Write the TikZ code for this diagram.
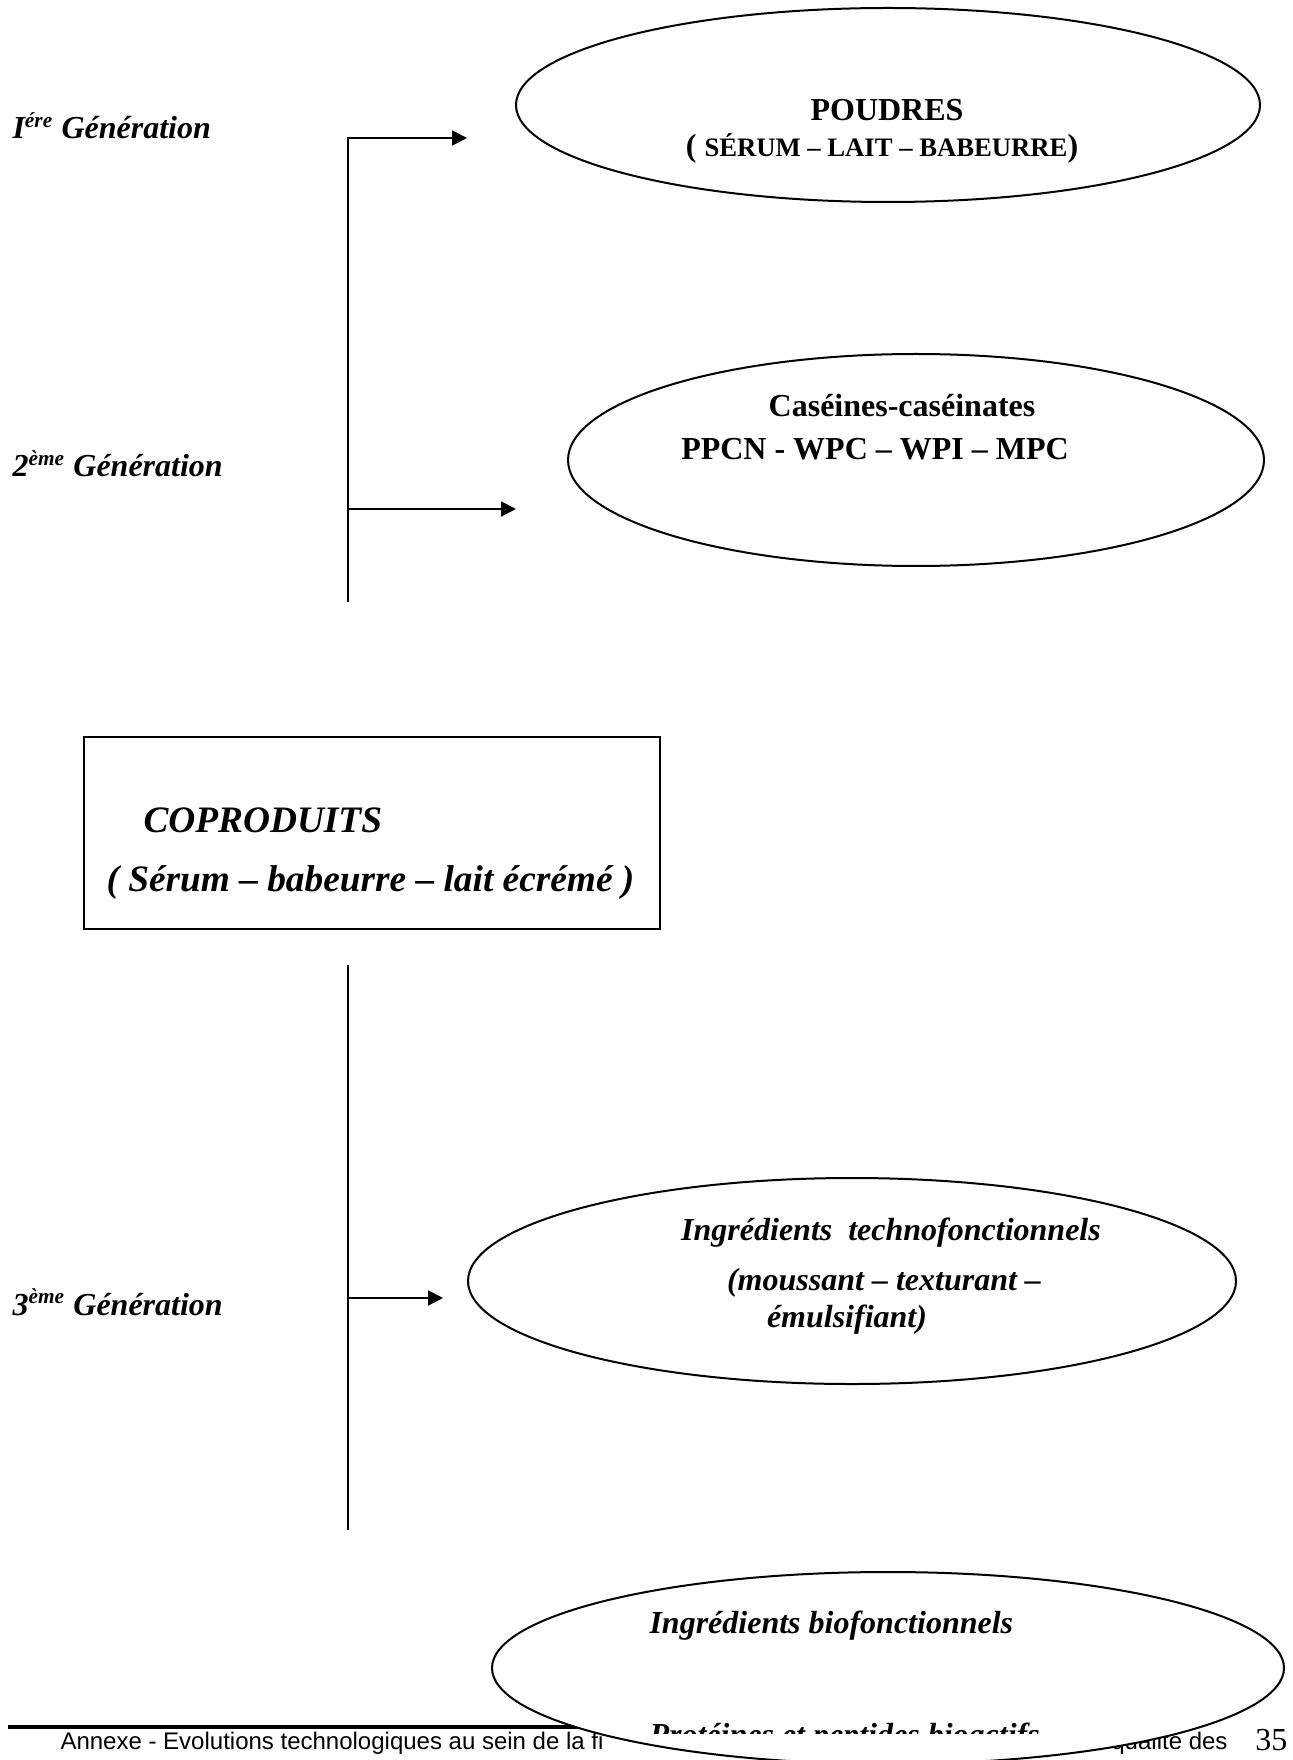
\documentclass[tikz,border=0pt]{standalone}
\usepackage{fontspec}
\setmainfont{Liberation Serif}
\newfontfamily\arialf{Liberation Sans}
\usetikzlibrary{shapes.geometric,arrows.meta}
\begin{document}
\begin{tikzpicture}[x=0.375pt,y=-0.375pt,
  ell/.style={draw,ellipse,fill=white,line width=0.75pt,inner sep=0pt},
  conn/.style={line width=0.75pt},
  arr/.style={conn,-{Triangle[length=5.6pt,width=5.6pt]}},
  gen/.style={font=\fontsize{12}{14}\selectfont\bfseries\itshape,anchor=base west,inner sep=0pt},
  bt/.style={font=\fontsize{12}{14}\selectfont\bfseries,anchor=base,inner sep=0pt},
  bi/.style={font=\fontsize{12}{14}\selectfont\bfseries\itshape,anchor=base,inner sep=0pt},
  bifour/.style={font=\fontsize{14}{17}\selectfont\bfseries\itshape,anchor=base west,inner sep=0pt},
  foot/.style={font=\fontsize{9}{11}\selectfont\arialf,inner sep=0pt},
  boxst/.style={draw,line width=0.75pt,inner sep=0pt}
]
\useasboundingbox (0,0) rectangle (1292,1760);
\clip (0,0) rectangle (1292,1760);

% generation labels
\node[gen] (g1) at (12,139) {I\textsuperscript{ére} Génération};
\node[gen] (g2) at (12,477) {2\textsuperscript{ème} Génération};
\node[gen] (g3) at (12,1315) {3\textsuperscript{ème} Génération};

% ellipses 1-3
\node[ell,minimum width=279pt,minimum height=72.75pt] (e1) at (888,105) {};
\node[ell,minimum width=261pt,minimum height=79.5pt] (e2) at (916,460) {};
\node[ell,minimum width=288pt,minimum height=77.25pt] (e3) at (852,1281) {};

\node[bt] (p1) at (887,121) {POUDRES};
\node[bt] (p2) at (882,157) {( {\fontsize{10}{12}\selectfont SÉRUM – LAIT – BABEURRE})};
\node[bt] (c1) at (902,417) {Caséines-caséinates};
\node[bt] (c2) at (875,460) {PPCN - WPC – WPI – MPC};
\node[bi] (i1) at (891,1240) {Ingrédients\ \ technofonctionnels};
\node[bi] (i2) at (884,1290) {(moussant – texturant –};
\node[bi] (i3) at (847,1327) {émulsifiant)};

% connectors
\coordinate (t1) at (348,138);
\coordinate (b1) at (348,602);
\coordinate (m1) at (348,509);
\coordinate (a1) at (467,138);
\coordinate (a2) at (516,509);
\draw[arr] (b1) -- (t1) -- (a1);
\draw[arr] (m1) -- (a2);

\coordinate (t2) at (348,965);
\coordinate (b2) at (348,1530);
\coordinate (m2) at (348,1298);
\coordinate (a3) at (443,1298);
\draw[conn] (t2) -- (b2);
\draw[arr] (m2) -- (a3);

% coproduits box
\node[boxst,minimum width=216pt,minimum height=72pt] (box) at (372,833) {};
\node[bifour] (k1) at (143,832) {COPRODUITS};
\node[bifour] (k2) at (106,891) {( Sérum – babeurre – lait écrémé )};

% footer
\coordinate (r1) at (8,1727);
\coordinate (r2) at (700,1727);
\draw[line width=1.5pt] (r1) -- (r2);
\node[foot,anchor=base west] (f1) at (60,1749) {Annexe - Evolutions technologiques au sein de la fi};
\node[foot,anchor=base east] (f2) at (1228,1749) {qualité des};
\node[font=\fontsize{12}{14}\selectfont,anchor=base east,inner sep=0pt] (f3) at (1288,1750) {35};

% ellipse 4
\node[ell,minimum width=297pt,minimum height=72pt] (e4) at (888,1668) {};
\node[bi,anchor=base west] (j1) at (649,1633) {Ingrédients biofonctionnels};
\begin{scope}
\clip (600,1600) rectangle (1150,1733);
\node[bi,anchor=base west] (j2) at (649,1745) {Protéines et peptides bioactifs};
\end{scope}
\end{tikzpicture}
\end{document}
